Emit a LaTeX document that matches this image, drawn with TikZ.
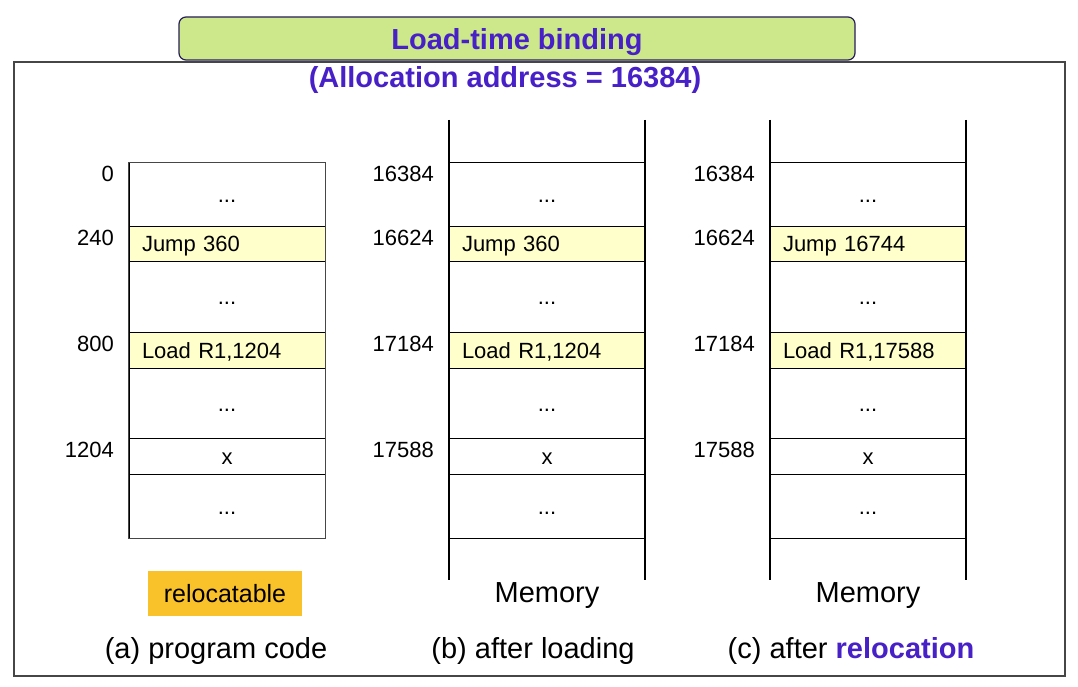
\documentclass[tikz,border=0pt]{standalone}
\usepackage{fontspec}
\setmainfont{Liberation Sans}
\definecolor{titlepurple}{RGB}{72,32,200}
\definecolor{titlegreen}{RGB}{205,232,138}
\definecolor{titleborder}{RGB}{40,30,90}
\definecolor{celly}{RGB}{255,255,204}
\definecolor{relo}{RGB}{250,194,42}
\definecolor{framegray}{RGB}{70,70,70}
\newcommand\fsz[1]{\fontsize{#1}{#1}\selectfont}
\tikzset{
  cell/.style={draw=black, line width=1pt, minimum width=196pt, inner sep=0pt,
    text height=16pt, text depth=0pt, font=\fsz{22}},
  hl/.style={fill=celly, text width=170pt, align=left, inner xsep=13pt},
  addr/.style={anchor=base east, inner sep=0pt, font=\fsz{22}},
  memline/.style={line width=2.2pt, black},
  colborder/.style={line width=1.5pt, framegray},
  big/.style={anchor=base, inner sep=0pt, font=\fsz{29}},
}
\newcommand\memcolumn[8]{%
  \node[cell, minimum height=63pt] (#1r1) at (#2+98,194.5) {...};
  \node[cell, hl, minimum height=35pt] (#1r2) at (#2+98,243.5) {#3};
  \node[cell, minimum height=71pt] (#1r3) at (#2+98,296.5) {...};
  \node[cell, hl, minimum height=36pt] (#1r4) at (#2+98,350) {#4};
  \node[cell, minimum height=70pt] (#1r5) at (#2+98,403) {...};
  \node[cell, minimum height=36pt] (#1r6) at (#2+98,456) {x};
  \node[cell, minimum height=64pt] (#1r7) at (#2+98,506) {...};
  \node[addr] (#1l1) at (#2-15,182) {#5};
  \node[addr] (#1l2) at (#2-15,245) {#6};
  \node[addr] (#1l3) at (#2-15,351) {#7};
  \node[addr] (#1l4) at (#2-15,457) {#8};
}
\begin{document}
\begin{tikzpicture}[x=1pt,y=-1pt]
\useasboundingbox[fill=white] (0,0) rectangle (1078,687);
% frame
\draw[line width=1.6pt, framegray] (14,62) rectangle (1065,676);
% title
\node[draw=titleborder, line width=1.2pt, rounded corners=7pt, fill=titlegreen,
  minimum width=676pt, minimum height=43pt, inner sep=0pt,
  text height=22pt, text depth=0pt, text=titlepurple, font=\fsz{29}\bfseries]
  (title) at (517,38.5) {Load-time binding};
\node[anchor=base, inner sep=0pt, text=titlepurple, font=\fsz{29}\bfseries]
  (alloc) at (505,87.5) {(Allocation address = 16384)};
% column A
\memcolumn{a}{129}{Jump 360}{Load R1,1204}{0}{240}{800}{1204}
\draw[colborder] (ar1.north west) rectangle (ar7.south east);
% column B
\memcolumn{b}{449}{Jump 360}{Load R1,1204}{16384}{16624}{17184}{17588}
\draw[memline] (449,120) -- (449,580);
\draw[memline] (645,120) -- (645,580);
% column C
\memcolumn{c}{770}{Jump 16744}{Load R1,17588}{16384}{16624}{17184}{17588}
\draw[memline] (770,120) -- (770,580);
\draw[memline] (966,120) -- (966,580);
% bottom labels
\node[fill=relo, minimum width=154pt, minimum height=45pt, inner sep=0pt, font=\fsz{25}]
  (reloc) at (225,593.5) {relocatable};
\node[big] (memb) at (547,602) {Memory};
\node[big] (memc) at (868,602) {Memory};
\node[big] (capa) at (216,658) {(a) program code};
\node[big] (capb) at (533,658) {(b) after loading};
\node[big] (capc) at (851,658) {(c) after {\color{titlepurple}\bfseries relocation}};
\end{tikzpicture}
\end{document}
